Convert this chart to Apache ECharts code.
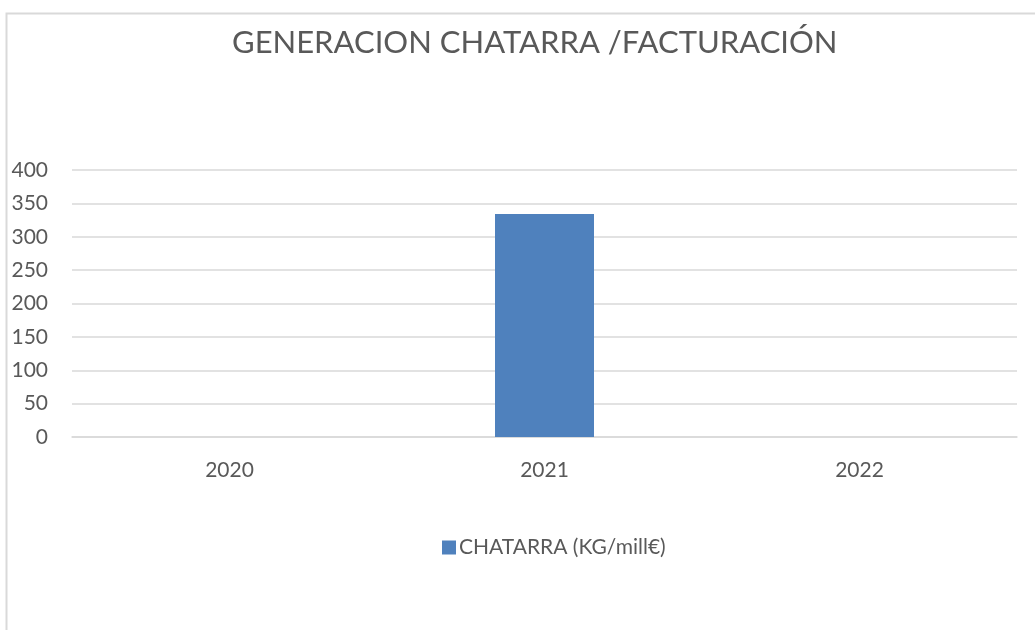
<!DOCTYPE html>
<html>
<head>
<meta charset="utf-8">
<script src="https://cdn.jsdelivr.net/npm/echarts@6/dist/echarts.min.js"></script>
<style>
  html, body { margin: 0; padding: 0; background: #fff; }
  #main { width: 1035px; height: 630px; }
</style>
</head>
<body>
<div id="main"></div>
<script>
// datos del gráfico
var years = ['2020', '2021', '2022'];
var chatarra = [null, 334, null];
var yTicks = [0, 50, 100, 150, 200, 250, 300, 350, 400];

var myChart = echarts.init(document.getElementById('main'));
var option = {
    backgroundColor: '#ffffff',
    textStyle: { fontFamily: 'Lato, "Open Sans", sans-serif' },
    graphic: [{
        type: 'rect',
        shape: { x: 6.5, y: 13.5, width: 1100, height: 700 },
        style: { fill: 'none', stroke: '#d9d9d9', lineWidth: 2 },
        silent: true
    }],
    title: {
        text: 'GENERACION CHATARRA /FACTURACIÓN',
        left: 227,
        top: 22,
        textStyle: {
            fontFamily: 'Lato, "Open Sans", sans-serif',
            fontSize: 31,
            fontWeight: 'normal',
            color: '#595959'
        }
    },
    legend: {
        data: ['CHATARRA (KG/mill€)'],
        left: 437,
        top: 532,
        itemWidth: 14,
        itemHeight: 14,
        itemGap: 6,
        icon: 'rect',
        textStyle: { fontSize: 21, color: '#595959', padding: [0, 0, 0, -2] }
    },
    grid: {
        left: 72,
        right: 18,
        top: 170,
        bottom: 193,
        containLabel: false
    },
    xAxis: {
        type: 'category',
        data: years,
        axisLine: { lineStyle: { color: '#d9d9d9', width: 1.5 } },
        axisTick: { show: false },
        axisLabel: { fontSize: 21, color: '#595959', margin: 23 }
    },
    yAxis: {
        type: 'value',
        min: yTicks[0],
        max: yTicks[yTicks.length - 1],
        interval: 50,
        axisLine: { show: false },
        axisTick: { show: false },
        axisLabel: { fontSize: 21, color: '#595959', margin: 24 },
        splitLine: { lineStyle: { color: '#d9d9d9', width: 1.5 } }
    },
    series: [{
        name: 'CHATARRA (KG/mill€)',
        type: 'bar',
        data: chatarra,
        barWidth: 99,
        itemStyle: { color: '#4f81bd' }
    }]
};
myChart.setOption(option);
</script>
</body>
</html>
